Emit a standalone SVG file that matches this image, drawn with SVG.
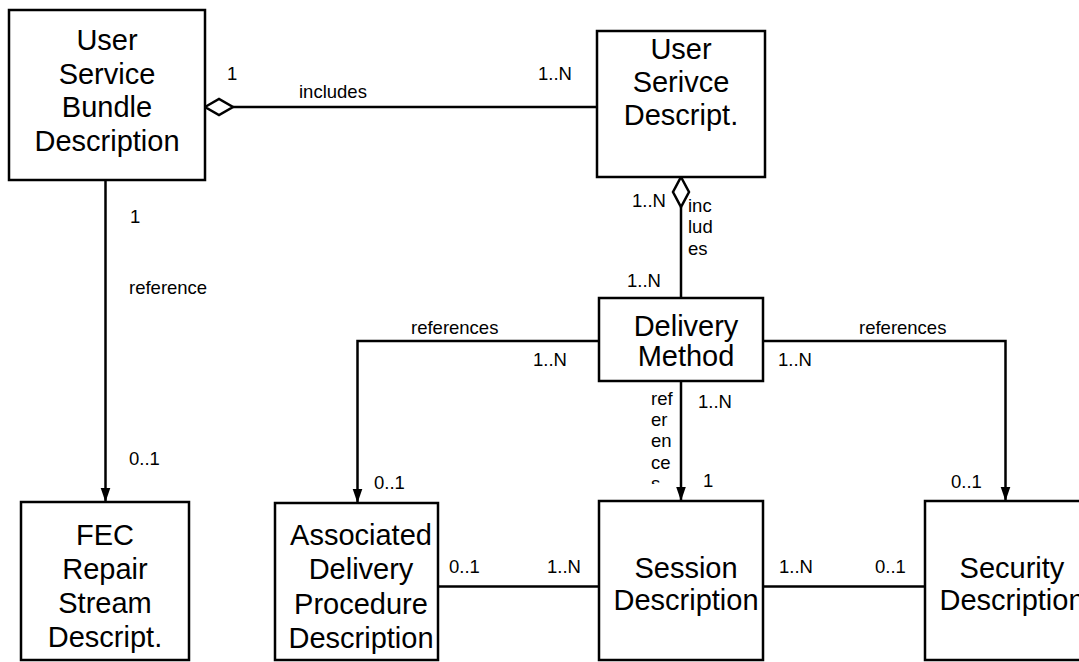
<svg xmlns="http://www.w3.org/2000/svg" width="1079" height="662" viewBox="0 0 1079 662">
<style>
.box{fill:#fff;stroke:#000;stroke-width:2.5}
.big{font-family:"Liberation Sans",Arial,sans-serif;font-size:29px;fill:#000;text-anchor:middle}
.sm{font-family:"Liberation Sans",Arial,sans-serif;font-size:18.5px;fill:#000}
.ln{fill:none;stroke:#000;stroke-width:2.5}
.dia{fill:#fff;stroke:#000;stroke-width:2.5}
</style>
<defs>
<marker id="arr" markerWidth="14" markerHeight="20" refX="19" refY="6.5" orient="auto" markerUnits="userSpaceOnUse" viewBox="0 0 19 13">
<path d="M0,0 L19,6.5 L0,13 Z" fill="#000"/>
</marker>
<clipPath id="clipRef"><rect x="600" y="380" width="80" height="104"/></clipPath>
</defs>
<rect width="1079" height="662" fill="#fff"/>
<g id="connectors">
<path class="ln" d="M233,107 H597"/>
<polygon class="dia" points="205,107 219,99 233,107 219,115"/>
<path class="ln" d="M105.5,180 V502" marker-end="url(#arr)"/>
<path class="ln" d="M681,207 V298"/>
<polygon class="dia" points="681,177 689,192 681,207 673,192"/>
<path class="ln" d="M599,341 H357.5 V503" marker-end="url(#arr)"/>
<path class="ln" d="M763,341 H1005.5 V501" marker-end="url(#arr)"/>
<path class="ln" d="M681,381 V501" marker-end="url(#arr)"/>
<path class="ln" d="M438,586.5 H599"/>
<path class="ln" d="M763,586.5 H925"/>
<text class="sm" x="227" y="80">1</text>
<text class="sm" x="299" y="98">includes</text>
<text class="sm" x="538" y="80">1..N</text>
<text class="sm" x="130" y="223">1</text>
<text class="sm" x="129" y="294">reference</text>
<text class="sm" x="129" y="465">0..1</text>
<text class="sm" x="632" y="207">1..N</text>
<text class="sm" x="688" y="212">inc</text>
<text class="sm" x="688" y="233">lud</text>
<text class="sm" x="688" y="255">es</text>
<text class="sm" x="627" y="287">1..N</text>
<text class="sm" x="411" y="334">references</text>
<text class="sm" x="533" y="366">1..N</text>
<text class="sm" x="859" y="334">references</text>
<text class="sm" x="778" y="366">1..N</text>
<text class="sm" x="374" y="489">0..1</text>
<text class="sm" x="951" y="488">0..1</text>
<g clip-path="url(#clipRef)">
<text class="sm" x="651" y="405">ref</text>
<text class="sm" x="651" y="426">er</text>
<text class="sm" x="651" y="447">en</text>
<text class="sm" x="651" y="469">ce</text>
<text class="sm" x="651" y="490">s</text>
</g>
<text class="sm" x="698" y="408">1..N</text>
<text class="sm" x="703" y="487">1</text>
<text class="sm" x="449" y="573">0..1</text>
<text class="sm" x="547" y="573">1..N</text>
<text class="sm" x="779" y="573">1..N</text>
<text class="sm" x="875" y="573">0..1</text>
</g>
<g id="usbd">
<rect class="box" x="9" y="10" width="196" height="170"/>
<text class="big" x="107" y="50">User</text>
<text class="big" x="107" y="84">Service</text>
<text class="big" x="107" y="117">Bundle</text>
<text class="big" x="107" y="151">Description</text>
</g>
<g id="usd">
<rect class="box" x="597" y="31" width="168" height="146"/>
<text class="big" x="681" y="59">User</text>
<text class="big" x="681" y="92">Serivce</text>
<text class="big" x="681" y="125">Descript.</text>
</g>
<g id="delivery">
<rect class="box" x="599" y="298" width="164" height="83"/>
<text class="big" x="686" y="336">Delivery</text>
<text class="big" x="686" y="366">Method</text>
</g>
<g id="fec">
<rect class="box" x="21" y="502" width="168" height="158"/>
<text class="big" x="105" y="545">FEC</text>
<text class="big" x="105" y="579">Repair</text>
<text class="big" x="105" y="613">Stream</text>
<text class="big" x="105" y="647">Descript.</text>
</g>
<g id="adpd">
<rect class="box" x="275" y="503" width="163" height="157"/>
<text class="big" x="361" y="545">Associated</text>
<text class="big" x="361" y="579">Delivery</text>
<text class="big" x="361" y="614">Procedure</text>
<text class="big" x="361" y="648">Description</text>
</g>
<g id="session">
<rect class="box" x="599" y="501" width="164" height="159"/>
<text class="big" x="686" y="578">Session</text>
<text class="big" x="686" y="610">Description</text>
</g>
<g id="security">
<rect class="box" x="925" y="501" width="170" height="159"/>
<text class="big" x="1012" y="578">Security</text>
<text class="big" x="1012" y="610">Description</text>
</g>
</svg>
